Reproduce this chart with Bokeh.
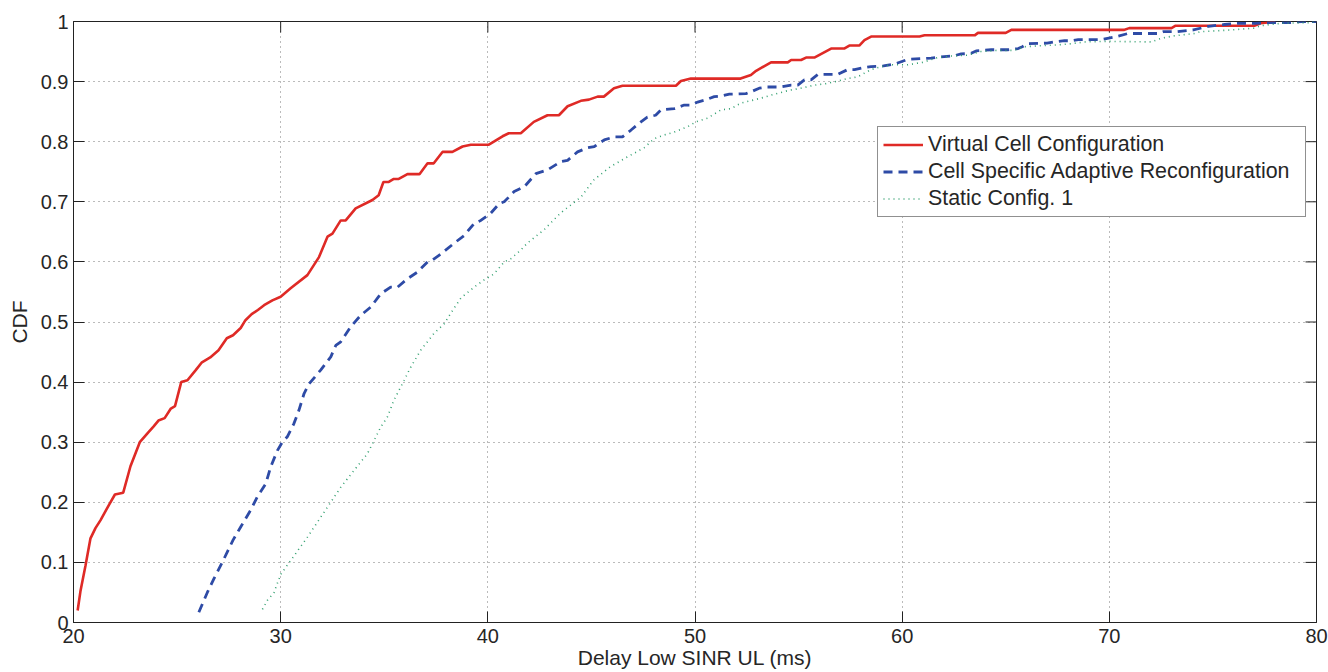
import math
from bokeh.plotting import figure
from bokeh.models import (FixedTicker, CustomJSTickFormatter, Legend, LegendItem, Range1d)
from bokeh.embed import file_html
from bokeh.resources import INLINE

# ---- data ----
vc_x = [20.2, 20.34, 20.58, 20.82, 21.06, 21.3, 21.7, 22.0, 22.4, 22.75, 23.2, 23.6, 23.86, 24.1, 24.4,
        24.7, 24.9, 25.2, 25.5, 25.9, 26.2, 26.6, 27.0, 27.4, 27.7, 28.07, 28.3, 28.6, 28.9, 29.2, 29.6,
        30.0, 30.48, 31.29, 31.85, 32.26, 32.5, 32.9, 33.14, 33.62, 34.43, 34.73, 34.96, 35.22, 35.46,
        35.7, 36.12, 36.7, 37.09, 37.39, 37.81, 38.29, 38.78, 39.18, 40.05, 40.29, 40.71, 41.01, 41.59,
        42.22, 42.88, 43.43, 43.85, 44.49, 44.88, 45.3, 45.6, 46.09, 46.5, 49.08, 49.32, 49.8, 52.2,
        52.7, 52.95, 53.67, 54.48, 54.64, 55.12, 55.36, 55.76, 56.57, 57.2, 57.45, 57.93, 58.18, 58.5,
        60.84, 61.08, 63.5, 63.66, 65.0, 65.27, 70.7, 70.96, 73.0, 73.2, 77.0, 77.3, 78.0]
vc_y = [0.02, 0.053, 0.095, 0.14, 0.157, 0.17, 0.195, 0.213, 0.216, 0.26, 0.30, 0.316, 0.326, 0.336, 0.34,
        0.356, 0.36, 0.40, 0.403, 0.42, 0.433, 0.441, 0.453, 0.473, 0.478, 0.49, 0.503, 0.513, 0.52, 0.528, 0.536,
        0.542, 0.556, 0.578, 0.608, 0.642, 0.647, 0.669, 0.669, 0.689, 0.703, 0.711, 0.733, 0.733, 0.738,
        0.738, 0.746, 0.746, 0.764, 0.764, 0.783, 0.783, 0.792, 0.795, 0.795, 0.8, 0.809, 0.814, 0.814,
        0.833, 0.844, 0.844, 0.859, 0.868, 0.87, 0.875, 0.875, 0.889, 0.893, 0.893, 0.901, 0.905, 0.905,
        0.911, 0.918, 0.932, 0.932, 0.936, 0.936, 0.94, 0.94, 0.955, 0.955, 0.96, 0.96, 0.969, 0.975,
        0.975, 0.977, 0.977, 0.981, 0.981, 0.986, 0.986, 0.989, 0.989, 0.993, 0.993, 0.997, 1.0]

csar_x = [26.05, 26.46, 26.78, 27.18, 27.7, 28.07, 28.55, 28.87, 29.28, 29.52, 29.84, 30.08, 30.32, 30.64,
          30.88, 31.13, 31.37, 31.93, 32.42, 32.66, 32.9, 33.38, 33.86, 34.35, 34.83, 35.31, 35.64, 36.12,
          36.6, 37.09, 37.33, 37.73, 38.37, 38.86, 39.34, 39.66, 40.14, 40.55, 40.79, 41.27, 41.76, 42.32,
          42.88, 43.53, 43.85, 44.33, 44.82, 45.14, 45.62, 46.1, 46.5, 46.9, 47.39, 47.7, 48.1, 48.36, 49.0,
          49.48, 49.8, 50.13, 50.45, 50.93, 51.26, 51.66, 52.46, 52.7, 53.1, 53.5, 54.15, 54.64, 54.96,
          55.28, 55.6, 55.93, 56.89, 57.37, 57.7, 58.1, 58.5, 59.1, 59.7, 60.27, 61.4, 61.8, 62.5, 62.85,
          63.33, 63.57, 64.3, 65.1, 65.6, 65.8, 66.07, 67.0, 67.36, 67.84, 68.16, 68.5, 69.6, 70.24, 70.9,
          72.37, 72.6, 73.3, 74.06, 74.78, 75.56, 76.23, 77.0, 77.68, 78.65, 79.3, 80.0]
csar_y = [0.017, 0.05, 0.073, 0.10, 0.137, 0.159, 0.187, 0.209, 0.231, 0.259, 0.286, 0.30, 0.309, 0.331,
          0.353, 0.381, 0.397, 0.42, 0.442, 0.461, 0.467, 0.492, 0.511, 0.525, 0.547, 0.558, 0.558, 0.572,
          0.583, 0.6, 0.603, 0.613, 0.631, 0.644, 0.664, 0.669, 0.681, 0.697, 0.70, 0.717, 0.725, 0.747,
          0.753, 0.767, 0.769, 0.783, 0.79, 0.792, 0.803, 0.808, 0.808, 0.819, 0.833, 0.841, 0.844, 0.853, 0.855,
          0.861, 0.861, 0.866, 0.869, 0.875, 0.876, 0.879, 0.88, 0.883, 0.889, 0.891, 0.891, 0.894, 0.894,
          0.903, 0.903, 0.912, 0.912, 0.92, 0.92, 0.923, 0.925, 0.926, 0.93, 0.937, 0.939, 0.941, 0.943, 0.946,
          0.947, 0.951, 0.953, 0.953, 0.955, 0.958, 0.963, 0.964, 0.966, 0.968, 0.968, 0.970, 0.970, 0.974, 0.98,
          0.98, 0.983, 0.983, 0.986, 0.992, 0.995, 0.997, 0.997, 0.998, 0.998, 1.0, 1.0]

sc_x = [29.12, 29.36, 29.68, 30.0, 30.48, 31.29, 32.26, 32.9, 33.54, 34.19, 34.51, 34.83, 35.15, 35.47,
        35.96, 36.28, 36.76, 37.4, 37.89, 38.2, 38.7, 39.34, 39.82, 40.3, 40.79, 41.1, 41.6, 41.9, 42.7,
        43.5, 44.5, 45.1, 45.9, 46.75, 47.55, 48.03, 48.5, 49.0, 49.65, 50.05, 50.6, 51.26, 51.74, 52.2,
        52.9, 53.35, 53.83, 54.48, 55.1, 55.76, 56.4, 56.9, 57.37, 57.85, 58.5, 59.0, 59.47, 60.27, 61.0,
        61.7, 62.5, 63.17, 63.8, 64.6, 65.4, 65.9, 66.85, 67.5, 68.16, 68.8, 69.76, 72.03, 72.5, 73.1,
        74.1, 74.4, 75.9, 77.0, 77.3, 78.3, 79.6, 80.0]
sc_y = [0.022, 0.037, 0.05, 0.08, 0.103, 0.142, 0.192, 0.225, 0.253, 0.281, 0.303, 0.325, 0.342, 0.37,
        0.403, 0.425, 0.453, 0.481, 0.497, 0.514, 0.54, 0.558, 0.57, 0.58, 0.60, 0.605, 0.62, 0.631, 0.653,
        0.681, 0.708, 0.736, 0.758, 0.775, 0.79, 0.805, 0.811, 0.816, 0.825, 0.833, 0.839, 0.853, 0.855, 0.864,
        0.87, 0.874, 0.879, 0.885, 0.889, 0.894, 0.897, 0.901, 0.905, 0.908, 0.92, 0.925, 0.928, 0.928, 0.932,
        0.94, 0.943, 0.944, 0.95, 0.952, 0.952, 0.958, 0.96, 0.961, 0.963, 0.966, 0.967, 0.966, 0.972, 0.976,
        0.98, 0.983, 0.986, 0.989, 0.993, 0.997, 0.998, 1.0]

x_ticks = [20, 30, 40, 50, 60, 70, 80]
y_ticks = [0, 0.1, 0.2, 0.3, 0.4, 0.5, 0.6, 0.7, 0.8, 0.9, 1.0]
x_lim = [20, 80]
y_lim = [0, 1]
names = ["Virtual Cell Configuration", "Cell Specific Adaptive Reconfiguration", "Static Config. 1"]

FONT = "Liberation Sans"
TXT = "#262626"
AX = "#222222"

p = figure(width=1328, height=672, output_backend="svg", toolbar_location=None,
           x_range=Range1d(*x_lim), y_range=Range1d(*y_lim),
           min_border_left=73, min_border_right=12, min_border_top=21, min_border_bottom=50,
           background_fill_color="white", border_fill_color="white")
p.outline_line_color = AX
p.outline_line_width = 1

fmt_y = CustomJSTickFormatter(code="return String(Math.round(tick*10)/10);")

for ax in p.xaxis:
    ax.ticker = FixedTicker(ticks=x_ticks)
    ax.axis_label = "Delay Low SINR UL (ms)"
    ax.major_label_standoff = 6
    ax.axis_label_standoff = 0
for ax in p.yaxis:
    ax.ticker = FixedTicker(ticks=y_ticks)
    ax.formatter = fmt_y
    ax.axis_label = "CDF"
    ax.major_label_standoff = 5
    ax.axis_label_standoff = 7

for ax in p.xaxis + p.yaxis:
    ax.axis_label_text_font = FONT
    ax.axis_label_text_font_size = "21px"
    ax.axis_label_text_font_style = "normal"
    ax.axis_label_text_color = TXT
    ax.major_label_text_font = FONT
    ax.major_label_text_font_size = "20px"
    ax.major_label_text_color = TXT
    ax.major_tick_in = 11
    ax.major_tick_out = 0
    ax.minor_tick_in = 0
    ax.minor_tick_out = 0
    ax.axis_line_color = AX
    ax.major_tick_line_color = AX

for g in p.grid:
    g.grid_line_color = "#555555"
    g.grid_line_dash = "1 4"
    g.grid_line_width = 1
    g.grid_line_alpha = 0.8
p.xgrid.ticker = FixedTicker(ticks=x_ticks)
p.ygrid.ticker = FixedTicker(ticks=y_ticks)

# box ticks on the top and right edges (inward, fixed screen length)
p.ray(x=x_ticks, y=[y_lim[1]] * len(x_ticks), length=11, length_units="screen",
      angle=-math.pi / 2, line_color=AX, line_width=1)
p.ray(x=[x_lim[1]] * len(y_ticks), y=y_ticks, length=11, length_units="screen",
      angle=math.pi, line_color=AX, line_width=1)

r1 = p.line(vc_x, vc_y, line_color="#DF2A26", line_width=2.6)
r2 = p.line(csar_x, csar_y, line_color="#2E4BA6", line_width=2.8, line_dash="9 6")
r3 = p.line(sc_x, sc_y, line_color="#33A070", line_width=1.6, line_dash="1 4")

legend = Legend(items=[LegendItem(label=names[0], renderers=[r1]),
                       LegendItem(label=names[1], renderers=[r2]),
                       LegendItem(label=names[2], renderers=[r3])],
                location=(804, 405), orientation="vertical")
legend.label_text_font = FONT
legend.label_text_font_size = "21.4px"
legend.label_text_color = TXT
legend.glyph_width = 40
legend.glyph_height = 23
legend.label_height = 23
legend.label_width = 372
legend.label_standoff = 5
legend.spacing = 2
legend.padding = 5
legend.margin = 0
legend.border_line_color = AX
legend.border_line_width = 1
legend.background_fill_color = "white"
legend.background_fill_alpha = 1
p.add_layout(legend, "center")

open("out.html", "w").write(file_html(p, INLINE))
